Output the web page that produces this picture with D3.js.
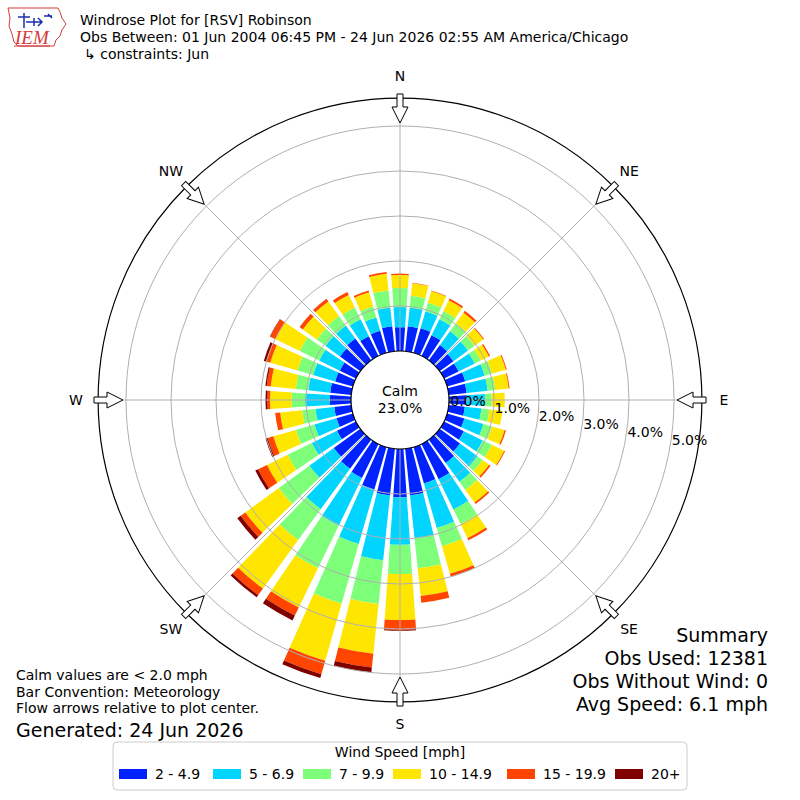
<!DOCTYPE html>
<html>
<head>
<meta charset="utf-8">
<script src="https://cdn.jsdelivr.net/npm/d3@7/dist/d3.min.js"></script>
<style>
  html, body { margin: 0; padding: 0; background: #fff; }
  svg { display: block; font-family: "DejaVu Sans", sans-serif; }
</style>
</head>
<body>
<div id="chart"></div>
<script>
// Wind direction bins (degrees, meteorological)
var directions = [0, 10, 20, 30, 40, 50, 60, 70, 80, 90, 100, 110,
                  120, 130, 140, 150, 160, 170, 180, 190, 200, 210, 220, 230,
                  240, 250, 260, 270, 280, 290, 300, 310, 320, 330, 340, 350];

var speedBins   = ['2 - 4.9', '5 - 6.9', '7 - 9.9', '10 - 14.9', '15 - 19.9', '20+'];
var speedColors = ['#0022ff', '#00d4ff', '#7dff7a', '#ffe600', '#ff4500', '#800000'];

// Frequency (%) per direction for each speed bin
var pct_2_5   = [0.53, 0.56, 0.57, 0.51, 0.42, 0.38, 0.36, 0.42, 0.40, 0.39, 0.36, 0.40,
                 0.49, 0.56, 0.64, 0.87, 0.84, 1.04, 1.07, 1.04, 0.98, 0.84, 0.80, 0.73,
                 0.47, 0.38, 0.38, 0.47, 0.47, 0.41, 0.40, 0.56, 0.60, 0.49, 0.51, 0.56];
var pct_5_7   = [0.45, 0.42, 0.39, 0.40, 0.38, 0.40, 0.40, 0.45, 0.47, 0.41, 0.37, 0.44,
                 0.47, 0.48, 0.52, 0.75, 1.03, 0.96, 1.06, 1.45, 1.26, 1.18, 1.11, 0.67,
                 0.62, 0.51, 0.42, 0.55, 0.49, 0.51, 0.51, 0.40, 0.36, 0.42, 0.31, 0.42];
var pct_7_10  = [0.42, 0.26, 0.20, 0.20, 0.22, 0.18, 0.15, 0.17, 0.17, 0.15, 0.18, 0.20,
                 0.22, 0.14, 0.22, 0.36, 0.42, 0.67, 0.65, 0.98, 1.38, 1.05, 0.85, 0.84,
                 0.60, 0.43, 0.30, 0.30, 0.28, 0.36, 0.48, 0.24, 0.26, 0.29, 0.25, 0.38];
var pct_10_15 = [0.29, 0.28, 0.27, 0.27, 0.29, 0.24, 0.20, 0.32, 0.30, 0.29, 0.29, 0.29,
                 0.31, 0.18, 0.35, 0.35, 0.64, 0.62, 1.02, 1.11, 1.32, 0.97, 1.33, 0.92,
                 0.51, 0.52, 0.49, 0.48, 0.56, 0.63, 0.60, 0.38, 0.40, 0.31, 0.33, 0.37];
var pct_15_20 = [0.03, 0.01, 0.01, 0.04, 0.05, 0.02, 0.03, 0.02, 0.02, 0.00, 0.00, 0.03,
                 0.02, 0.04, 0.04, 0.05, 0.07, 0.15, 0.22, 0.31, 0.31, 0.20, 0.18, 0.13,
                 0.22, 0.13, 0.11, 0.06, 0.09, 0.10, 0.13, 0.09, 0.07, 0.07, 0.04, 0.04];
var pct_20up  = [0.00, 0.00, 0.00, 0.00, 0.00, 0.00, 0.00, 0.00, 0.00, 0.00, 0.00, 0.00,
                 0.00, 0.00, 0.00, 0.00, 0.00, 0.00, 0.02, 0.11, 0.09, 0.12, 0.06, 0.09,
                 0.07, 0.05, 0.00, 0.04, 0.03, 0.05, 0.01, 0.00, 0.00, 0.00, 0.00, 0.00];

var radialTicks  = [0, 1, 2, 3, 4, 5];
var compassNames = ['N', 'NE', 'E', 'SE', 'S', 'SW', 'W', 'NW'];
var compassAngles = [0, 45, 90, 135, 180, 225, 270, 315];

var calmPct = '23.0%';
var titleLines = ['Windrose Plot for [RSV] Robinson',
                  'Obs Between: 01 Jun 2004 06:45 PM - 24 Jun 2026 02:55 AM America/Chicago',
                  '\u21B3 constraints: Jun'];
var noteLines = ['Calm values are < 2.0 mph', 'Bar Convention: Meteorology',
                 'Flow arrows relative to plot center.'];
var generated = 'Generated: 24 Jun 2026';
var summaryLines = ['Summary', 'Obs Used: 12381', 'Obs Without Wind: 0', 'Avg Speed: 6.1 mph'];

(function () {
  'use strict';

  var W = 800, H = 800, cx = 400, cy = 400;
  var GRID = '#b0b0b0';
  var series = [pct_2_5, pct_5_7, pct_7_10, pct_10_15, pct_15_20, pct_20up];

  var svg = d3.select('#chart').append('svg')
    .attr('width', W).attr('height', H);
  svg.append('rect').attr('width', W).attr('height', H).attr('fill', '#fff');

  // radius: calm circle is the 0% baseline
  var r = d3.scaleLinear().domain([0, 5]).range([49, 274]);
  var rOuter = r(5.62);
  var toRad = function (deg) { return deg * Math.PI / 180; };
  var opening = 8; // degrees of each 10 degree sector

  var plot = svg.append('g').attr('transform', 'translate(' + cx + ',' + cy + ')');

  // stacked data
  var rows = directions.map(function (d, i) {
    var row = { dir: d };
    speedBins.forEach(function (b, j) { row[b] = series[j][i]; });
    return row;
  });
  var stacked = d3.stack().keys(speedBins)(rows);

  var arc = d3.arc();
  stacked.forEach(function (layer, j) {
    plot.append('g').selectAll('path').data(layer).enter()
      .append('path')
      .attr('fill', speedColors[j])
      .attr('d', function (d) {
        if (d[1] - d[0] <= 0) return null;
        var a = d.data.dir;
        return arc({
          innerRadius: r(d[0]), outerRadius: r(d[1]),
          startAngle: toRad(a - opening / 2), endAngle: toRad(a + opening / 2)
        });
      });
  });

  // grid on top of bars
  var grid = plot.append('g');
  grid.selectAll('line').data(compassAngles).enter().append('line')
    .attr('x1', 0).attr('y1', 0)
    .attr('x2', function (a) { return rOuter * Math.sin(toRad(a)); })
    .attr('y2', function (a) { return -rOuter * Math.cos(toRad(a)); })
    .attr('stroke', GRID).attr('stroke-width', 1);
  grid.selectAll('circle').data(radialTicks.slice(1)).enter().append('circle')
    .attr('r', function (t) { return r(t); })
    .attr('fill', 'none').attr('stroke', GRID).attr('stroke-width', 1);

  plot.append('circle').attr('r', rOuter)
    .attr('fill', 'none').attr('stroke', '#000').attr('stroke-width', 1.2);

  // calm circle
  plot.append('circle').attr('r', r(0))
    .attr('fill', '#fff').attr('stroke', '#000').attr('stroke-width', 1.2);
  plot.append('text').attr('y', -4).attr('text-anchor', 'middle')
    .attr('font-size', 14).text('Calm');
  plot.append('text').attr('y', 13).attr('text-anchor', 'middle')
    .attr('font-size', 14).text(calmPct);

  // radial labels
  var phi = Math.atan(8 / 45);
  plot.append('g').selectAll('text').data(radialTicks).enter().append('text')
    .attr('x', function (t) { return r(t) * Math.cos(phi) + 2; })
    .attr('y', function (t) { return r(t) * Math.sin(phi) - 3; })
    .attr('font-size', 14).attr('fill', '#000')
    .text(function (t) { return t.toFixed(1) + '%'; });

  // inward flow arrows
  var arrowPts = [[-3, -306], [-3, -293], [-8, -293], [0, -277],
                  [8, -293], [3, -293], [3, -306]];
  plot.append('g').selectAll('polygon').data(compassAngles).enter().append('polygon')
    .attr('transform', function (a) { return 'rotate(' + a + ')'; })
    .attr('points', arrowPts.map(function (p) { return p.join(','); }).join(' '))
    .attr('fill', '#fff').attr('stroke', '#000').attr('stroke-width', 1);

  // compass labels
  plot.append('g').selectAll('text').data(compassAngles).enter().append('text')
    .attr('x', function (a) { return 324 * Math.sin(toRad(a)); })
    .attr('y', function (a) { return -324 * Math.cos(toRad(a)) + 5; })
    .attr('text-anchor', 'middle').attr('font-size', 14)
    .text(function (a, i) { return compassNames[i]; });

  // header
  svg.append('g').selectAll('text').data(titleLines).enter().append('text')
    .attr('x', function (d, i) { return i === 2 ? 84 : 80; })
    .attr('y', function (d, i) { return 25 + i * 17; })
    .attr('font-size', 14).text(function (d) { return d; });

  // IEM logo
  var logo = svg.append('g').attr('transform', 'translate(4,4)');
  logo.append('path')
    .attr('d', 'M4,4 L54,4 L56,8 L58,14 L62,20 L58,26 L56,32 L52,36 L50,42 L14,42 L10,38 L8,30 L5,22 L6,14 Z')
    .attr('fill', 'none').attr('stroke', '#d23b3b').attr('stroke-width', 1);
  logo.append('path')
    .attr('d', 'M14,13 L26,13 M20,9 L20,24 M22,18 L38,18 M30,14 L30,22 M34,14 L38,18 L34,22 M40,12 L48,12 M44,10 L48,14')
    .attr('fill', 'none').attr('stroke', '#1c2fb0').attr('stroke-width', 1.5);
  logo.append('text').attr('x', 11).attr('y', 40)
    .attr('font-family', '"Liberation Serif", serif').attr('font-style', 'italic')
    .attr('font-size', 19).attr('fill', '#d23b3b').text('IEM');
  logo.append('line').attr('x1', 10).attr('x2', 46).attr('y1', 42).attr('y2', 42)
    .attr('stroke', '#d23b3b').attr('stroke-width', 1);

  // notes bottom left
  svg.append('g').selectAll('text').data(noteLines).enter().append('text')
    .attr('x', 16).attr('y', function (d, i) { return 680 + i * 16.5; })
    .attr('font-size', 14).text(function (d) { return d; });
  svg.append('text').attr('x', 16).attr('y', 737)
    .attr('font-size', 19).text(generated);

  // summary bottom right
  svg.append('g').selectAll('text').data(summaryLines).enter().append('text')
    .attr('x', 768).attr('y', function (d, i) { return 642 + i * 23; })
    .attr('text-anchor', 'end').attr('font-size', 19)
    .text(function (d) { return d; });

  // legend
  var legX = [119, 213, 303, 393, 507, 615];
  var leg = svg.append('g');
  leg.append('rect').attr('x', 113).attr('y', 742).attr('width', 574).attr('height', 48)
    .attr('rx', 4).attr('fill', '#fff').attr('stroke', '#cccccc');
  leg.append('text').attr('x', 400).attr('y', 757).attr('text-anchor', 'middle')
    .attr('font-size', 14).text('Wind Speed [mph]');
  var item = leg.selectAll('g.item').data(speedBins).enter().append('g')
    .attr('transform', function (d, i) { return 'translate(' + legX[i] + ',0)'; });
  item.append('rect').attr('y', 769).attr('width', 28).attr('height', 10)
    .attr('fill', function (d, i) { return speedColors[i]; });
  item.append('text').attr('x', 36).attr('y', 779).attr('font-size', 14)
    .text(function (d) { return d; });
})();
</script>
</body>
</html>
